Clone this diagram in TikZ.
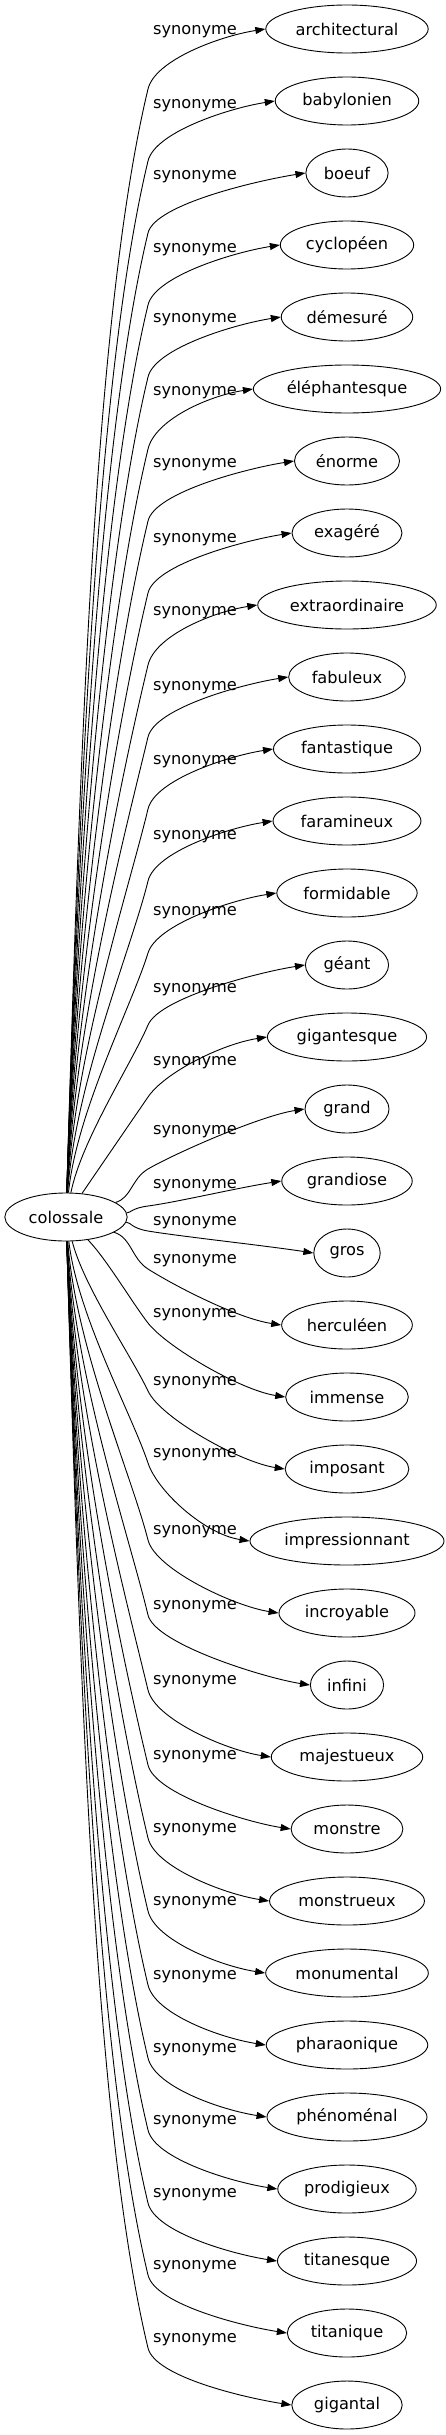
\documentclass[tikz,border=0pt]{standalone}
\usepackage{fontspec}
\setmainfont{DejaVu Sans}
\usetikzlibrary{shapes.geometric,arrows.meta}
\begin{document}
\begin{tikzpicture}[x=1pt, y=-1pt,
    wordnode/.style={ellipse, draw, line width=0.9pt, inner xsep=6pt, minimum height=48pt, font=\fontsize{16.2pt}{19pt}\selectfont},
    synlabel/.style={inner sep=0pt, font=\fontsize{16.2pt}{19pt}\selectfont},
    synedge/.style={line width=0.9pt, -{Triangle[length=10pt, width=7pt]}}]
      \useasboundingbox (0,0) rectangle (446,2435);
      \node (colossale) at (66,1217) [wordnode] {colossale};
      \foreach \k/\word/\ly in {0/architectural/32, 1/babylonien/106, 2/boeuf/177, 3/cyclopéen/250, 4/démesuré/320, 5/éléphantesque/393, 6/énorme/465, 7/exagéré/540, 8/extraordinaire/613, 9/fabuleux/688, 10/fantastique/762, 11/faramineux/837, 12/formidable/913, 13/géant/990, 14/gigantesque/1063, 15/grand/1132, 16/grandiose/1186, 17/gros/1223, 18/herculéen/1261, 19/immense/1315, 20/imposant/1383, 21/impressionnant/1455, 22/incroyable/1532, 23/infini/1607, 24/majestueux/1682, 25/monstre/1757, 26/monstrueux/1830, 27/monumental/1903, 28/pharaonique/1977, 29/phénoménal/2050, 30/prodigieux/2122, 31/titanesque/2195, 32/titanique/2267, 33/gigantal/2340}
      {
        \pgfmathsetmacro{\ty}{29+72*\k}
        \node (t\k) at (347,\ty) [wordnode] {\word};
        \node (l\k) at (195,\ly) [synlabel] {synonyme};
        \pgfmathsetmacro{\sg}{\ty<1217 ? -1 : 1}
        \pgfmathsetmacro{\vy}{\ty<1217 ? min(\ty+60,1206) : \ly+8}
        \pgfmathsetmacro{\dd}{abs(\vy-1217)}
        \pgfmathsetmacro{\ff}{min(1,82/\dd)}
        \pgfmathsetmacro{\sx}{max(0.24,82/\dd)}
        \pgfmathsetmacro{\ax}{68+0.01*\dd+63*\ff*\ff}
        \pgfmathsetmacro{\ay}{1217+0.4*\sg*\dd}
        \pgfmathsetmacro{\bx}{148-\sx*0.2*\dd}
        \pgfmathsetmacro{\by}{\vy-\sg*0.2*\dd}
        \pgfmathsetmacro{\cx}{148+30*\sx/sqrt(\sx*\sx+1)}
        \pgfmathsetmacro{\cy}{\vy+30*\sg/sqrt(\sx*\sx+1)}
        \pgfmathsetmacro{\ey}{-7*\sg}
        \coordinate (b\k) at (148,\vy);
        \draw[synedge] (colossale) .. controls (\ax,\ay) and (\bx,\by) .. (b\k) .. controls (\cx,\cy) and +(-45,\ey) .. (t\k.west);
      }
\end{tikzpicture}
\end{document}
